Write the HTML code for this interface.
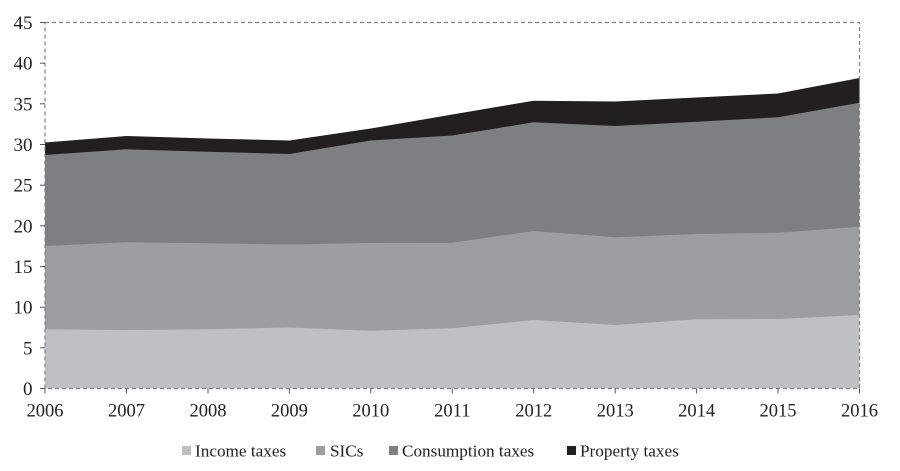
<!DOCTYPE html>
<html><head><meta charset="utf-8"><style>
html,body{margin:0;padding:0;background:#fff;}
svg{display:block;}
text{font-family:"Liberation Serif",serif;fill:#222;}
</style></head><body>
<svg width="900" height="471" viewBox="0 0 900 471" xmlns="http://www.w3.org/2000/svg">
<rect width="900" height="471" fill="#fff"/>
<!-- Property -->
<polygon fill="#231f20" points="45,388.5 45,142.5 126.5,136 208,138.5 289.4,140.5 370.8,128.5 452.3,114.5 533.7,100.7 615.2,101.5 696.6,97.5 778,93.5 859.5,78 859.5,388.5"/>
<!-- Consumption -->
<polygon fill="#7e7f83" points="45,388.5 45,155 126.5,149.3 208,151.7 289.4,154 370.8,140.5 452.3,135.5 533.7,122.3 615.2,126 696.6,121.7 778,117.3 859.5,102.7 859.5,388.5"/>
<!-- SICs -->
<polygon fill="#9d9ea2" points="45,388.5 45,246 126.5,242.3 208,243.3 289.4,244.5 370.8,243 452.3,242.7 533.7,231 615.2,237.3 696.6,234 778,232.7 859.5,226.7 859.5,388.5"/>
<!-- Income -->
<polygon fill="#bfc0c4" points="45,388.5 45,329.3 126.5,330 208,329.3 289.4,327.5 370.8,330.7 452.3,328.3 533.7,320 615.2,325 696.6,319.3 778,319 859.5,315 859.5,388.5"/>
<!-- dashed frame -->
<rect x="45" y="22.5" width="814.5" height="366" fill="none" stroke="#808080" stroke-width="1.2" stroke-dasharray="4,3"/>
<!-- ticks -->
<g stroke="#555" stroke-width="1">
<line x1="40" y1="22.5" x2="45" y2="22.5"/>
<line x1="40" y1="63.2" x2="45" y2="63.2"/>
<line x1="40" y1="103.8" x2="45" y2="103.8"/>
<line x1="40" y1="144.5" x2="45" y2="144.5"/>
<line x1="40" y1="185.2" x2="45" y2="185.2"/>
<line x1="40" y1="225.8" x2="45" y2="225.8"/>
<line x1="40" y1="266.5" x2="45" y2="266.5"/>
<line x1="40" y1="307.2" x2="45" y2="307.2"/>
<line x1="40" y1="347.8" x2="45" y2="347.8"/>
<line x1="40" y1="388.5" x2="45" y2="388.5"/>
<line x1="45" y1="388.5" x2="45" y2="393.5"/>
<line x1="126.5" y1="388.5" x2="126.5" y2="393.5"/>
<line x1="208" y1="388.5" x2="208" y2="393.5"/>
<line x1="289.4" y1="388.5" x2="289.4" y2="393.5"/>
<line x1="370.8" y1="388.5" x2="370.8" y2="393.5"/>
<line x1="452.3" y1="388.5" x2="452.3" y2="393.5"/>
<line x1="533.7" y1="388.5" x2="533.7" y2="393.5"/>
<line x1="615.2" y1="388.5" x2="615.2" y2="393.5"/>
<line x1="696.6" y1="388.5" x2="696.6" y2="393.5"/>
<line x1="778" y1="388.5" x2="778" y2="393.5"/>
<line x1="859.5" y1="388.5" x2="859.5" y2="393.5"/>
</g>
<!-- y labels -->
<g font-size="19" text-anchor="end">
<text x="32.5" y="29">45</text>
<text x="32.5" y="69.7">40</text>
<text x="32.5" y="110.3">35</text>
<text x="32.5" y="151">30</text>
<text x="32.5" y="191.7">25</text>
<text x="32.5" y="232.3">20</text>
<text x="32.5" y="273">15</text>
<text x="32.5" y="313.7">10</text>
<text x="32.5" y="354.3">5</text>
<text x="32.5" y="395">0</text>
</g>
<!-- x labels -->
<g font-size="18.5" text-anchor="middle">
<text x="45" y="416.5">2006</text>
<text x="126.5" y="416.5">2007</text>
<text x="208" y="416.5">2008</text>
<text x="289.4" y="416.5">2009</text>
<text x="370.8" y="416.5">2010</text>
<text x="452.3" y="416.5">2011</text>
<text x="533.7" y="416.5">2012</text>
<text x="615.2" y="416.5">2013</text>
<text x="696.6" y="416.5">2014</text>
<text x="778" y="416.5">2015</text>
<text x="859.5" y="416.5">2016</text>
</g>
<!-- legend -->
<rect x="182" y="446" width="9" height="9" fill="#bfc0c4"/>
<text x="195" y="456.5" font-size="17.2">Income taxes</text>
<rect x="316" y="446" width="9" height="9" fill="#9d9ea2"/>
<text x="330" y="456.5" font-size="17.2">SICs</text>
<rect x="389" y="446" width="9" height="9" fill="#7e7f83"/>
<text x="402" y="456.5" font-size="17.2">Consumption taxes</text>
<rect x="567" y="446" width="9" height="9" fill="#231f20"/>
<text x="580" y="456.5" font-size="17.2">Property taxes</text>
</svg>
</body></html>
